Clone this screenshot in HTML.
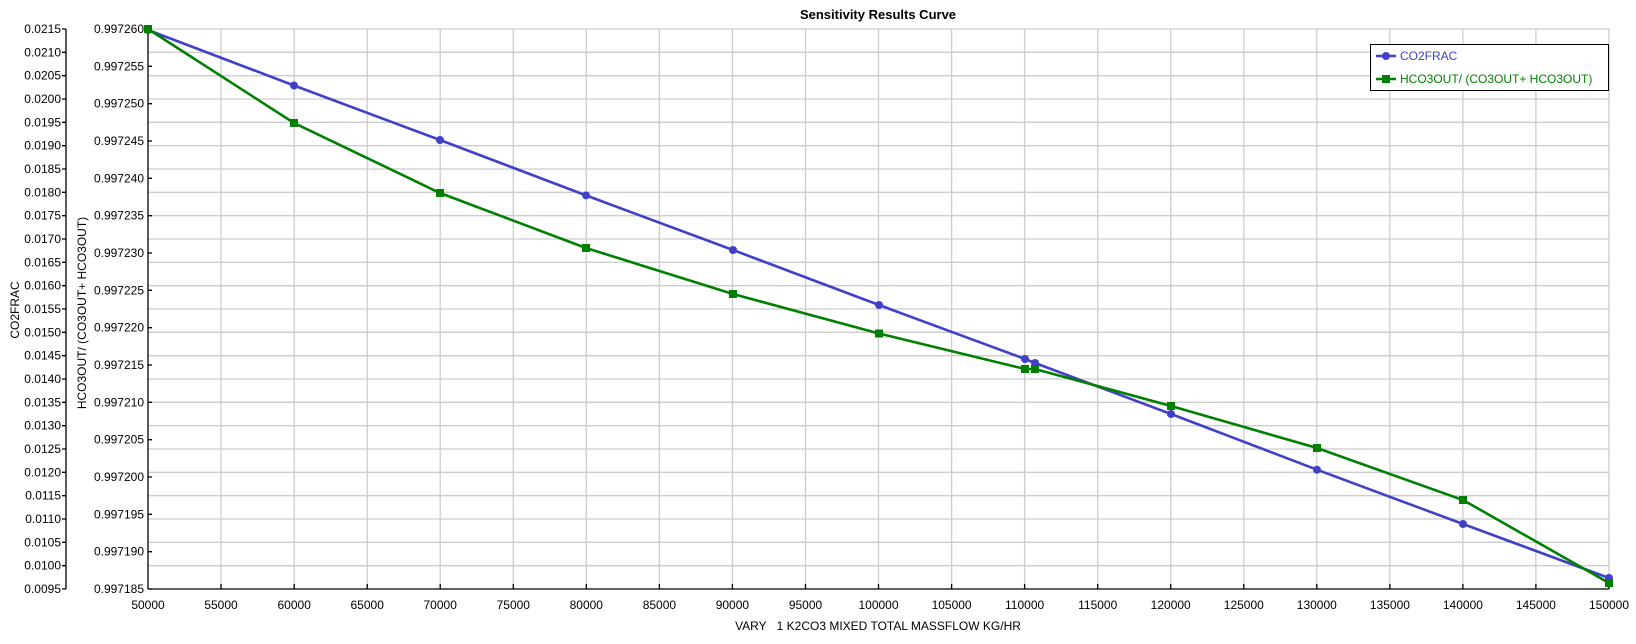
<!DOCTYPE html>
<html><head><meta charset="utf-8"><style>
body{margin:0;background:#fff}
svg{display:block;font-family:"Liberation Sans",sans-serif;font-size:12px}
</style></head><body>
<svg width="1636" height="644" viewBox="0 0 1636 644" xmlns="http://www.w3.org/2000/svg">
<rect width="1636" height="644" fill="#fff"/>
<text x="878" y="19" text-anchor="middle" font-weight="bold" font-size="13">Sensitivity Results Curve</text>
<g stroke="#cccccc" stroke-width="1.3">
<line x1="221" y1="29" x2="221" y2="589"/><line x1="294.2" y1="29" x2="294.2" y2="589"/><line x1="367.2" y1="29" x2="367.2" y2="589"/><line x1="440.2" y1="29" x2="440.2" y2="589"/><line x1="513.3" y1="29" x2="513.3" y2="589"/><line x1="586.3" y1="29" x2="586.3" y2="589"/><line x1="659.4" y1="29" x2="659.4" y2="589"/><line x1="732.4" y1="29" x2="732.4" y2="589"/><line x1="805.5" y1="29" x2="805.5" y2="589"/><line x1="878.5" y1="29" x2="878.5" y2="589"/><line x1="951.6" y1="29" x2="951.6" y2="589"/><line x1="1024.6" y1="29" x2="1024.6" y2="589"/><line x1="1097.7" y1="29" x2="1097.7" y2="589"/><line x1="1170.7" y1="29" x2="1170.7" y2="589"/><line x1="1243.8" y1="29" x2="1243.8" y2="589"/><line x1="1316.8" y1="29" x2="1316.8" y2="589"/><line x1="1389.9" y1="29" x2="1389.9" y2="589"/><line x1="1462.9" y1="29" x2="1462.9" y2="589"/><line x1="1535.9" y1="29" x2="1535.9" y2="589"/><line x1="1609" y1="29" x2="1609" y2="589"/>
<line x1="148" y1="29" x2="1609" y2="29"/><line x1="148" y1="52.3" x2="1609" y2="52.3"/><line x1="148" y1="75.7" x2="1609" y2="75.7"/><line x1="148" y1="99" x2="1609" y2="99"/><line x1="148" y1="122.3" x2="1609" y2="122.3"/><line x1="148" y1="145.7" x2="1609" y2="145.7"/><line x1="148" y1="169" x2="1609" y2="169"/><line x1="148" y1="192.3" x2="1609" y2="192.3"/><line x1="148" y1="215.7" x2="1609" y2="215.7"/><line x1="148" y1="239" x2="1609" y2="239"/><line x1="148" y1="262.3" x2="1609" y2="262.3"/><line x1="148" y1="285.7" x2="1609" y2="285.7"/><line x1="148" y1="309" x2="1609" y2="309"/><line x1="148" y1="332.3" x2="1609" y2="332.3"/><line x1="148" y1="355.7" x2="1609" y2="355.7"/><line x1="148" y1="379" x2="1609" y2="379"/><line x1="148" y1="402.3" x2="1609" y2="402.3"/><line x1="148" y1="425.7" x2="1609" y2="425.7"/><line x1="148" y1="449" x2="1609" y2="449"/><line x1="148" y1="472.3" x2="1609" y2="472.3"/><line x1="148" y1="495.7" x2="1609" y2="495.7"/><line x1="148" y1="519" x2="1609" y2="519"/><line x1="148" y1="542.3" x2="1609" y2="542.3"/><line x1="148" y1="565.7" x2="1609" y2="565.7"/>
</g>
<g stroke="#000" stroke-width="1.3">
<line x1="66" y1="29" x2="66" y2="589"/>
<line x1="148" y1="29" x2="148" y2="589"/>
<line x1="148" y1="589" x2="1609" y2="589"/>
<path d="M62 29h4M62 52.3h4M62 75.7h4M62 99h4M62 122.3h4M62 145.7h4M62 169h4M62 192.3h4M62 215.7h4M62 239h4M62 262.3h4M62 285.7h4M62 309h4M62 332.3h4M62 355.7h4M62 379h4M62 402.3h4M62 425.7h4M62 449h4M62 472.3h4M62 495.7h4M62 519h4M62 542.3h4M62 565.7h4M62 589h4"/>
<path d="M148 29h4M148 66.3h4M148 103.7h4M148 141h4M148 178.3h4M148 215.7h4M148 253h4M148 290.3h4M148 327.7h4M148 365h4M148 402.3h4M148 439.7h4M148 477h4M148 514.3h4M148 551.7h4M148 589h4"/>
<path d="M221 589v-5M294.2 589v-5M367.2 589v-5M440.2 589v-5M513.3 589v-5M586.3 589v-5M659.4 589v-5M732.4 589v-5M805.5 589v-5M878.5 589v-5M951.6 589v-5M1024.6 589v-5M1097.7 589v-5M1170.7 589v-5M1243.8 589v-5M1316.8 589v-5M1389.9 589v-5M1462.9 589v-5M1535.9 589v-5M1609 589v-5"/>
</g>
<g text-anchor="end">
<text x="61" y="33">0.0215</text><text x="61" y="56.3">0.0210</text><text x="61" y="79.7">0.0205</text><text x="61" y="103">0.0200</text><text x="61" y="126.3">0.0195</text><text x="61" y="149.7">0.0190</text><text x="61" y="173">0.0185</text><text x="61" y="196.3">0.0180</text><text x="61" y="219.7">0.0175</text><text x="61" y="243">0.0170</text><text x="61" y="266.3">0.0165</text><text x="61" y="289.7">0.0160</text><text x="61" y="313">0.0155</text><text x="61" y="336.3">0.0150</text><text x="61" y="359.7">0.0145</text><text x="61" y="383">0.0140</text><text x="61" y="406.3">0.0135</text><text x="61" y="429.7">0.0130</text><text x="61" y="453">0.0125</text><text x="61" y="476.3">0.0120</text><text x="61" y="499.7">0.0115</text><text x="61" y="523">0.0110</text><text x="61" y="546.3">0.0105</text><text x="61" y="569.7">0.0100</text><text x="61" y="593">0.0095</text>
<text x="144" y="33">0.997260</text><text x="144" y="70.3">0.997255</text><text x="144" y="107.7">0.997250</text><text x="144" y="145">0.997245</text><text x="144" y="182.3">0.997240</text><text x="144" y="219.7">0.997235</text><text x="144" y="257">0.997230</text><text x="144" y="294.3">0.997225</text><text x="144" y="331.7">0.997220</text><text x="144" y="369">0.997215</text><text x="144" y="406.3">0.997210</text><text x="144" y="443.7">0.997205</text><text x="144" y="481">0.997200</text><text x="144" y="518.3">0.997195</text><text x="144" y="555.7">0.997190</text><text x="144" y="593">0.997185</text>
</g>
<g text-anchor="middle">
<text x="148" y="609">50000</text><text x="221" y="609">55000</text><text x="294.2" y="609">60000</text><text x="367.2" y="609">65000</text><text x="440.2" y="609">70000</text><text x="513.3" y="609">75000</text><text x="586.3" y="609">80000</text><text x="659.4" y="609">85000</text><text x="732.4" y="609">90000</text><text x="805.5" y="609">95000</text><text x="878.5" y="609">100000</text><text x="951.6" y="609">105000</text><text x="1024.6" y="609">110000</text><text x="1097.7" y="609">115000</text><text x="1170.7" y="609">120000</text><text x="1243.8" y="609">125000</text><text x="1316.8" y="609">130000</text><text x="1389.9" y="609">135000</text><text x="1462.9" y="609">140000</text><text x="1535.9" y="609">145000</text><text x="1609" y="609">150000</text>
<text x="878" y="630">VARY&#160;&#160;&#160;1 K2CO3 MIXED TOTAL MASSFLOW KG/HR</text>
<text transform="translate(19,310) rotate(-90)">CO2FRAC</text>
<text transform="translate(86,313) rotate(-90)">HCO3OUT/ (CO3OUT+ HCO3OUT)</text>
</g>
<polyline fill="none" stroke="#4040C8" stroke-width="2.6" points="148,30 294,85.5 440,140 586,195.4 733,250 879,305 1025,359 1035,363 1171,414 1317,469.7 1463,524 1609,578"/>
<g fill="#4040C8"><circle cx="148" cy="30" r="4"/><circle cx="294" cy="85.5" r="4"/><circle cx="440" cy="140" r="4"/><circle cx="586" cy="195.4" r="4"/><circle cx="733" cy="250" r="4"/><circle cx="879" cy="305" r="4"/><circle cx="1025" cy="359" r="4"/><circle cx="1035" cy="363" r="4"/><circle cx="1171" cy="414" r="4"/><circle cx="1317" cy="469.7" r="4"/><circle cx="1463" cy="524" r="4"/><circle cx="1609" cy="578" r="4"/></g>
<polyline fill="none" stroke="#008000" stroke-width="2.6" points="148,29 294,123 440,193 586,248 733,294 879,333.5 1025,369 1035,369 1171,406 1317,448 1463,500 1609,583"/>
<g fill="#008000"><rect x="144" y="25" width="8" height="8"/><rect x="290" y="119" width="8" height="8"/><rect x="436" y="189" width="8" height="8"/><rect x="582" y="244" width="8" height="8"/><rect x="729" y="290" width="8" height="8"/><rect x="875" y="329.5" width="8" height="8"/><rect x="1021" y="365" width="8" height="8"/><rect x="1031" y="365" width="8" height="8"/><rect x="1167" y="402" width="8" height="8"/><rect x="1313" y="444" width="8" height="8"/><rect x="1459" y="496" width="8" height="8"/><rect x="1605" y="579" width="8" height="8"/></g>
<rect x="1370.5" y="44.5" width="238" height="46" fill="#fff" stroke="#000" stroke-width="1"/>
<line x1="1376" y1="56" x2="1396" y2="56" stroke="#4040C8" stroke-width="2.6"/><circle cx="1386" cy="56" r="4" fill="#4040C8"/>
<text x="1400" y="60" fill="#4040C8">CO2FRAC</text>
<line x1="1376" y1="79" x2="1396" y2="79" stroke="#008000" stroke-width="2.6"/><rect x="1382" y="75" width="8" height="8" fill="#008000"/>
<text x="1400" y="83" fill="#008000">HCO3OUT/ (CO3OUT+ HCO3OUT)</text>
</svg>
</body></html>
